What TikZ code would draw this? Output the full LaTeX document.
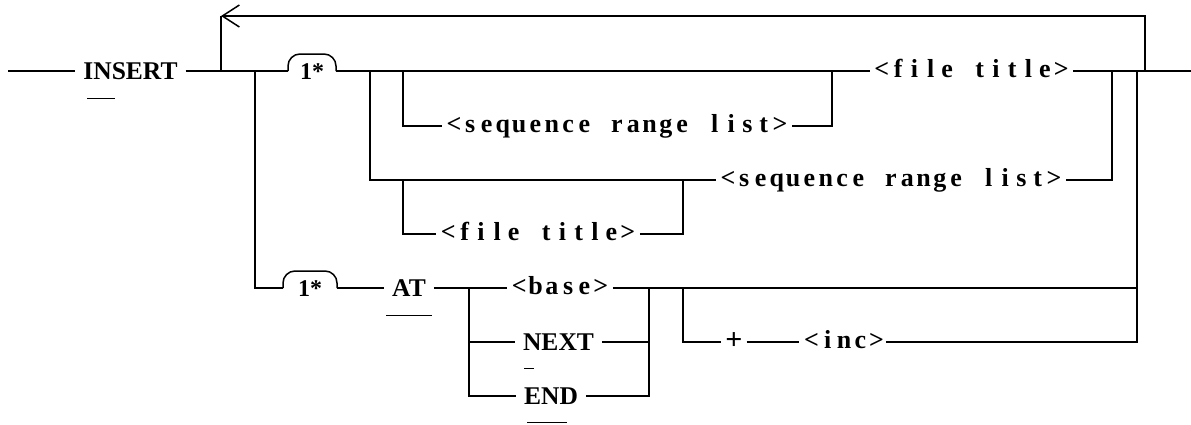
\documentclass[tikz,border=0pt]{standalone}
\usepackage{fontspec}
\setmainfont{Liberation Serif}
\usetikzlibrary{arrows.meta,calc}
\makeatletter
\newcommand\gridtxt[1]{\gridtxt@loop#1\relax}
\def\gridtxt@loop#1{\ifx\relax#1\else\makebox[16.3pt]{#1}\expandafter\gridtxt@loop\fi}
\makeatother
\tikzset{
  ln/.style={line width=1.5pt},
  ul/.style={line width=1.3pt},
  kw/.style={font=\fontsize{25.5}{25.5}\selectfont\bfseries, inner xsep=8pt, inner ysep=0pt,
    text height=17pt, text depth=0pt, outer sep=0pt},
  nt/.style={font=\fontsize{26}{26}\selectfont\bfseries, inner xsep=4pt, inner ysep=0pt,
    text height=12pt, text depth=0pt, outer sep=0pt},
  onestar/.style={font=\fontsize{24}{24}\selectfont\bfseries, inner sep=0pt,
    text height=14pt, text depth=0pt},
  plusnode/.style={font=\fontsize{30}{30}\selectfont\bfseries, inner xsep=4pt, inner ysep=0pt,
    text height=15pt, text depth=0pt, outer sep=0pt},
  bump/.style={line width=1.5pt, rounded corners=12pt},
}
\begin{document}
\begin{tikzpicture}[x=1pt,y=-1pt]
\useasboundingbox (0,0) rectangle (1191,424);
% ---- main row ----
\coordinate (start) at (8,71);
\node[kw] (insert) at (130.5,71) {INSERT};
\coordinate (jL) at (221,71);
\coordinate (tL) at (221,16);
\coordinate (jB) at (255,71);
\coordinate (b1l) at (288,71);
\coordinate (b1r) at (336,71);
\node[onestar] (one1) at (312,72) {1*};
\coordinate (j370) at (370,71);
\coordinate (j403) at (403,71);
\coordinate (j832) at (832,71);
\node[nt] (file1) at (971.5,71) {\gridtxt{<file~title>}};
\coordinate (j1112) at (1112,71);
\coordinate (j1137) at (1137,71);
\coordinate (jR) at (1145,71);
\coordinate (tR) at (1145,16);
\coordinate (finish) at (1191,71);

\draw[ln] (start) -- (insert.west);
\draw[ln] (insert.east) -- (jL) -- (jB) -- (b1l);
\draw[bump] (b1l) -- ++(0,-17) -- ++(48,0) -- (b1r);
\draw[ln] (b1r) -- (j370) -- (j403) -- (j832) -- (file1.west);
\draw[ln] (file1.east) -- (j1112) -- (j1137) -- (jR) -- (finish);

% ---- loop back ----
\draw[ln, -{Straight Barb[length=17pt,width=22pt]}] (jR) -- (tR) -- (tL);
\draw[ln] (tL) -- (jL);

% ---- row 1b ----
\coordinate (r1a) at (403,126);
\node[nt] (seq1) at (617,126) {\gridtxt{<sequence~range~list>}};
\coordinate (r1b) at (832,126);
\draw[ln] (j403) -- (r1a) -- (seq1.west);
\draw[ln] (seq1.east) -- (r1b) -- (j832);

% ---- row 2 ----
\coordinate (r2a) at (370,180);
\coordinate (r2b) at (403,180);
\coordinate (r2c) at (683,180);
\node[nt] (seq2) at (891,180) {\gridtxt{<sequence~range~list>}};
\coordinate (r2d) at (1112,180);
\draw[ln] (j370) -- (r2a) -- (r2b) -- (r2c) -- (seq2.west);
\draw[ln] (seq2.east) -- (r2d) -- (j1112);

% ---- row 3 ----
\coordinate (r3a) at (403,234);
\node[nt] (file2) at (538,234) {\gridtxt{<file~title>}};
\coordinate (r3b) at (683,234);
\draw[ln] (r2b) -- (r3a) -- (file2.west);
\draw[ln] (file2.east) -- (r3b) -- (r2c);

% ---- bottom row ----
\coordinate (r4a) at (255,288);
\coordinate (b2l) at (283,288);
\coordinate (b2r) at (337,288);
\node[onestar] (one2) at (310,289) {1*};
\node[kw] (at) at (409,288) {AT};
\coordinate (j469) at (469,288);
\node[nt] (base) at (560,288) {\gridtxt{<base>}};
\coordinate (j649) at (649,288);
\coordinate (j683) at (683,288);
\coordinate (r4e) at (1137,288);
\draw[ln] (jB) -- (r4a) -- (b2l);
\draw[bump] (b2l) -- ++(0,-17) -- ++(54,0) -- (b2r);
\draw[ln] (b2r) -- (at.west);
\draw[ln] (at.east) -- (j469) -- (base.west);
\draw[ln] (base.east) -- (j649) -- (j683) -- (r4e) -- (j1137);

% NEXT
\coordinate (r5a) at (469,342);
\node[kw] (next) at (558.5,342) {NEXT};
\coordinate (r5b) at (649,342);
\draw[ln] (j469) -- (r5a) -- (next.west);
\draw[ln] (next.east) -- (r5b);

% END
\coordinate (r6a) at (469,396);
\node[kw] (endk) at (551,396) {END};
\coordinate (r6b) at (649,396);
\draw[ln] (r5a) -- (r6a) -- (endk.west);
\draw[ln] (endk.east) -- (r6b) -- (r5b) -- (j649);

% + <inc>
\coordinate (r5c) at (683,342);
\node[plusnode] (plus) at (734,342) {+};
\node[nt, inner xsep=1pt] (inc) at (844,342) {\gridtxt{<inc>}};
\coordinate (r5d) at (1137,342);
\draw[ln] (j683) -- (r5c) -- (plus.west);
\draw[ln] (plus.east) -- ([xshift=-3pt]inc.west);
\draw[ln] (inc.east) -- (r5d) -- (r4e);

% ---- underlines (minimal abbreviations) ----
\draw[ul] ($(insert.text)+(4,19)$) -- ($(insert.text)+(32,19)$);
\draw[ul] ($(at.south west)+(2,19)$) -- ($(at.south east)+(-2,19)$);
\draw[ul] ($(next.text)+(1,18)$) -- ($(next.text)+(11,18)$);
\draw[ul] ($(endk.text)+(3,18)$) -- ($(endk.text)+(43,18)$);
\end{tikzpicture}
\end{document}
